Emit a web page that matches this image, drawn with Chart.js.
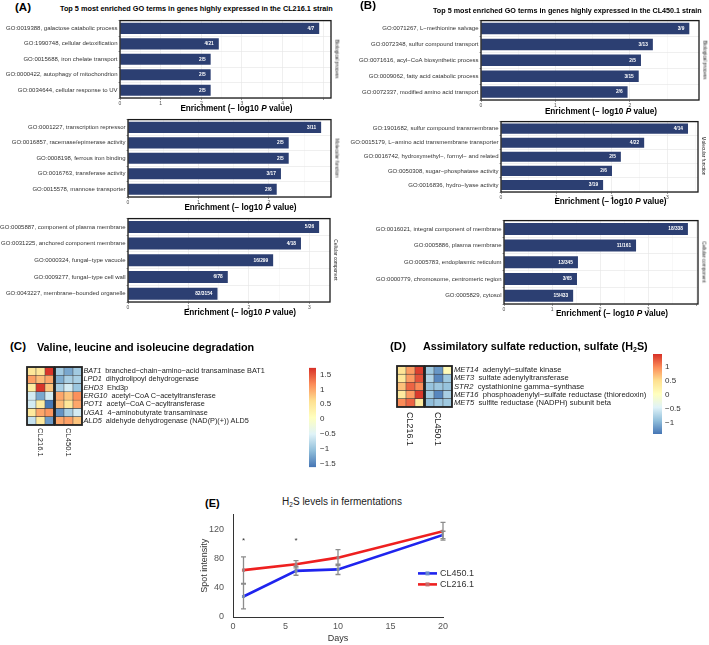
<!DOCTYPE html>
<html>
<head>
<meta charset="utf-8">
<script src="https://cdn.jsdelivr.net/npm/chart.js@4.4.1/dist/chart.umd.min.js"></script>
<style>
body { margin: 0; background: #fff; font-family: "Liberation Sans", Arial, sans-serif; }
#page { position: relative; width: 709px; height: 645px; overflow: hidden; }
canvas { position: absolute; }
.t { position: absolute; white-space: nowrap; line-height: 1; color: #000; }
</style>
</head>
<body>
<div id="page"></div>
<script>
// ---- (A) GO terms, CL216.1 ----
const bpA = ['GO:0019388, galactose catabolic process', 'GO:1990748, cellular detoxification', 'GO:0015688, iron chelate transport', 'GO:0000422, autophagy of mitochondrion', 'GO:0034644, cellular response to UV'];
const bpAVal = [4.90, 2.43, 2.23, 2.23, 2.23];
const bpACnt = ['4/7', '4/21', '2/5', '2/5', '2/5'];
const mfA = ['GO:0001227, transcription repressor', 'GO:0016857, racemase/epimerase activity', 'GO:0008198, ferrous iron binding', 'GO:0016763, transferase activity', 'GO:0015578, mannose transporter'];
const mfAVal = [2.74, 2.28, 2.28, 2.17, 2.11];
const mfACnt = ['3/11', '2/5', '2/5', '3/17', '2/6'];
const ccA = ['GO:0005887, component of plasma membrane', 'GO:0031225, anchored component membrane', 'GO:0000324, fungal\u2212type vacuole', 'GO:0009277, fungal\u2212type cell wall', 'GO:0043227, membrane\u2212bounded organelle'];
const ccAVal = [3.16, 2.86, 2.40, 1.65, 1.48];
const ccACnt = ['5/26', '4/18', '16/299', '6/78', '82/3154'];

// ---- (B) GO terms, CL450.1 ----
const bpB = ['GO:0071267, L\u2212methionine salvage', 'GO:0072348, sulfur compound transport', 'GO:0071616, acyl\u2212CoA biosynthetic process', 'GO:0009062, fatty acid catabolic process', 'GO:0072337, modified amino acid transport'];
const bpBVal = [2.80, 2.31, 2.15, 2.12, 1.97];
const bpBCnt = ['3/9', '3/13', '2/5', '3/15', '2/6'];
const mfB = ['GO:1901682, sulfur compound transmembrane', 'GO:0015179, L\u2212amino acid transmembrane transporter', 'GO:0016742, hydroxymethyl\u2212, formyl\u2212 and related', 'GO:0050308, sugar\u2212phosphatase activity', 'GO:0016836, hydro\u2212lyase activity'];
const mfBVal = [3.37, 2.58, 2.16, 2.00, 1.84];
const mfBCnt = ['4/14', '4/22', '2/5', '2/6', '3/19'];
const ccB = ['GO:0016021, integral component of membrane', 'GO:0005886, plasma membrane', 'GO:0005783, endoplasmic reticulum', 'GO:0000779, chromosome, centromeric region', 'GO:0005829, cytosol'];
const ccBVal = [3.83, 2.75, 1.54, 1.52, 1.44];
const ccBCnt = ['18/338', '11/161', '13/345', '3/65', '15/433'];

// ---- (C) heatmap: rows = genes, cols = 3 replicates per strain ----
const genesC = ['BAT1', 'LPD1', 'EHD3', 'ERG10', 'POT1', 'UGA1', 'ALD5'];
const descC = ['branched\u2212chain\u2212amino\u2212acid transaminase BAT1', 'dihydrolipoyl dehydrogenase', 'Ehd3p', 'acetyl\u2212CoA C\u2212acetyltransferase', 'acetyl\u2212CoA C\u2212acyltransferase', '4\u2212aminobutyrate transaminase', 'aldehyde dehydrogenase (NAD(P)(+)) ALD5'];
const c216 = [[0.5, 0.5, 1.7], [1.05, 0.85, 1.0], [0.4, 1.7, 0.8], [-0.6, -1.25, -0.6], [-0.6, 0.4, -1.6], [0.45, 1.0, 1.1], [-0.7, 0.45, -1.35]];
const c450 = [[-0.95, -1.25, -0.95], [-1.2, -0.9, -0.9], [-0.9, -0.6, -1.0], [1.0, 0.8, 1.15], [0.85, 0.5, 1.0], [-1.4, -0.9, -0.6], [1.0, 1.05, 0.8]];
const rangeC = [-1.63, 1.73];

// ---- (D) heatmap ----
const genesD = ['MET14', 'MET3', 'STR2', 'MET16', 'MET5'];
const descD = ['adenylyl\u2212sulfate kinase', 'sulfate adenylyltransferase', 'cystathionine gamma\u2212synthase', 'phosphoadenylyl\u2212sulfate reductase (thioredoxin)', 'sulfite reductase (NADPH) subunit beta'];
const d216 = [[0.45, 0.9, 1.4], [0.4, 0.9, 1.3], [0.7, 1.2, 1.0], [0.35, 0.9, 1.42], [1.0, 1.2, 0.35]];
const d450 = [[-0.85, -1.2, 0.1], [-0.75, -1.3, -0.85], [-0.9, -0.87, -0.9], [-0.85, -1.3, -0.8], [-0.95, -0.87, -0.85]];
const rangeD = [-1.42, 1.47];
const strains = ['CL216.1', 'CL450.1'];

// ---- (E) H2S levels ----
const days = [1, 6, 10, 20];
const h2s450 = [28, 63, 65, 112];
const err450 = [17, 6, 7, 5];
const h2s216 = [64, 72, 81, 117];
const err216 = [18, 5, 11, 12];
const starDays = [1, 6];
const starLevel = 104;

Chart.defaults.font.family = '"Liberation Sans", Arial, sans-serif';
Chart.defaults.animation = false;
const NAVY = '#2c3f72';
const PAL = ['#4575B4', '#91BFDB', '#E0F3F8', '#FFFFBF', '#FEE090', '#FC8D59', '#D73027'];
const page = document.getElementById('page');

function addCanvas(x, y, w, h) {
  const c = document.createElement('canvas');
  c.width = Math.round(w); c.height = Math.round(h);
  c.style.left = x + 'px'; c.style.top = y + 'px';
  page.appendChild(c);
  return c;
}

function txt(html, x, y, css, anchor) {
  const d = document.createElement('div');
  d.className = 't';
  d.innerHTML = html;
  d.style.cssText += css;
  d.style.left = x + 'px';
  d.style.top = y + 'px';
  const tx = anchor === 'c' ? '-50%' : anchor === 'r' ? '-100%' : '0';
  d.style.transform = 'translate(' + tx + ',-50%)';
  page.appendChild(d);
  return d;
}

function vtxt(html, cx, top, fs) {
  const d = document.createElement('div');
  d.className = 't';
  d.innerHTML = html;
  d.style.cssText += 'font-size:' + fs + 'px;color:#222;transform-origin:0 0;transform:rotate(90deg);';
  d.style.left = (cx + fs / 2) + 'px';
  d.style.top = top + 'px';
  page.appendChild(d);
}

const frame = {
  id: 'frame',
  afterDraw(c, args, opts) {
    const a = c.chartArea, g = c.ctx;
    g.save();
    g.strokeStyle = opts.color || '#1a1a1a';
    g.lineWidth = opts.width || 1.3;
    g.strokeRect(a.left, a.top, a.right - a.left, a.bottom - a.top);
    g.restore();
  }
};

const isInt = v => Math.abs(v - Math.round(v)) < 1e-6;

function goPanel(p) {
  const top = p.T - 3, right = p.R + 12, bottom = p.B + 10;
  const cv = addCanvas(p.cx, top, right - p.cx, bottom - top);
  new Chart(cv, {
    type: 'bar',
    data: { labels: p.terms, datasets: [{ data: p.vals, backgroundColor: NAVY, barPercentage: 0.72, categoryPercentage: 1 }] },
    options: {
      indexAxis: 'y', responsive: false,
      layout: { padding: { top: 3, right: 12, left: 0, bottom: 0 } },
      plugins: { legend: { display: false }, tooltip: { enabled: false } },
      scales: {
        x: {
          min: 0, max: p.max,
          ticks: { stepSize: 0.5, includeBounds: false, autoSkip: false, maxRotation: 0, padding: 0.5,
            font: { size: 5 }, color: '#4d4d4d',
            callback: v => (isInt(v) && v <= p.lab) ? String(Math.round(v)) : '' },
          grid: { color: ctx => ctx.tick && isInt(ctx.tick.value) ? '#e4e4e4' : '#f3f3f3', tickLength: 2,
            tickColor: ctx => ctx.tick && isInt(ctx.tick.value) ? '#555' : 'rgba(0,0,0,0)', lineWidth: 0.6 },
          border: { display: false },
          afterFit: s => { s.height = 10; }
        },
        y: {
          ticks: { autoSkip: false, padding: 1, font: { size: 6 }, color: '#333' },
          grid: { color: '#e4e4e4', lineWidth: 0.6, tickLength: 1.5, tickColor: '#555' },
          border: { display: false },
          afterFit: s => { s.width = p.L - p.cx; }
        }
      }
    },
    plugins: [frame, {
      id: 'counts',
      afterDatasetsDraw(c) {
        const g = c.ctx;
        g.save();
        g.fillStyle = '#fff';
        g.font = 'bold 4.8px "Liberation Sans"';
        g.textAlign = 'right'; g.textBaseline = 'middle';
        c.getDatasetMeta(0).data.forEach((bar, i) => g.fillText(p.cnt[i], bar.x - 5, bar.y));
        g.restore();
      }
    }]
  });
  const fl = document.createElement('div');
  fl.className = 't';
  fl.textContent = p.facet;
  fl.style.cssText += 'font-size:4.8px;color:#1a1a1a;transform:translate(-50%,-50%) rotate(90deg);';
  fl.style.left = (p.R + 5) + 'px';
  fl.style.top = ((p.T + p.B) / 2) + 'px';
  page.appendChild(fl);
  txt('Enrichment (\u2212 log10 <i>P</i> value)', (p.L + p.R) / 2 + 11, p.ty, 'font-size:8.2px;font-weight:bold;', 'c');
}

const goPanels = [
  { terms: bpA, vals: bpAVal, cnt: bpACnt, facet: 'Biological process', cx: 0, L: 120, R: 331, T: 19, B: 98, max: 5.19, lab: 4, ty: 109 },
  { terms: mfA, vals: mfAVal, cnt: mfACnt, facet: 'Molecular function', cx: 0, L: 128, R: 331, T: 118, B: 197, max: 2.88, lab: 2, ty: 208 },
  { terms: ccA, vals: ccAVal, cnt: ccACnt, facet: 'Cellular component', cx: 0, L: 128, R: 330, T: 217, B: 302, max: 3.34, lab: 3, ty: 313 },
  { terms: bpB, vals: bpBVal, cnt: bpBCnt, facet: 'Biological process', cx: 340, L: 481, R: 699, T: 19, B: 100, max: 2.93, lab: 2, ty: 112 },
  { terms: mfB, vals: mfBVal, cnt: mfBCnt, facet: 'Molecular function', cx: 340, L: 501, R: 698, T: 120, B: 192, max: 3.55, lab: 3, ty: 202 },
  { terms: ccB, vals: ccBVal, cnt: ccBCnt, facet: 'Cellular component', cx: 340, L: 504, R: 698, T: 219, B: 304, max: 4.04, lab: 3, ty: 314 }
];
goPanels.forEach(goPanel);

txt('(A)', 15, 8, 'font-size:11.5px;font-weight:bold;');
txt('Top 5 most enriched GO terms in genes highly expressed in the CL216.1 strain', 60, 8.5, 'font-size:7.3px;font-weight:bold;');
txt('(B)', 360, 6, 'font-size:11.5px;font-weight:bold;');
txt('Top 5 most enriched GO terms in genes highly expressed in the CL450.1 strain', 433, 11, 'font-size:7.2px;font-weight:bold;');

// ---- heatmaps ----
function hexRgb(h) { return [1, 3, 5].map(i => parseInt(h.slice(i, i + 2), 16)); }
function heatColor(v, lo, hi) {
  let t = (v - lo) / (hi - lo) * (PAL.length - 1);
  t = Math.max(0, Math.min(PAL.length - 1, t));
  const i = Math.min(Math.floor(t), PAL.length - 2), f = t - i;
  const a = hexRgb(PAL[i]), b = hexRgb(PAL[i + 1]);
  return 'rgb(' + a.map((x, k) => Math.round(x + (b[k] - x) * f)).join(',') + ')';
}

function heatGroup(x, y, w, h, rows, range) {
  const cv = addCanvas(x - 1, y - 1, w + 2, h + 2);
  const n = rows.length;
  new Chart(cv, {
    type: 'bar',
    data: {
      labels: ['r1', 'r2', 'r3'],
      datasets: rows.slice().reverse().map(r => ({
        data: r.map(() => 1),
        backgroundColor: r.map(v => heatColor(v, range[0], range[1])),
        borderColor: '#3a3a3a', borderWidth: 0.55, borderSkipped: false,
        barPercentage: 1, categoryPercentage: 1
      }))
    },
    options: {
      responsive: false,
      layout: { padding: 1 },
      plugins: { legend: { display: false }, tooltip: { enabled: false }, frame: { color: '#222', width: 1.8 } },
      scales: {
        x: { stacked: true, display: false },
        y: { stacked: true, display: false, min: 0, max: n }
      }
    },
    plugins: [frame]
  });
}

function colorBar(x, y, w, h, range, labPad) {
  const cv = addCanvas(x, y - 8, w + 34, h + 16);
  new Chart(cv, {
    type: 'bar',
    data: {
      labels: [''],
      datasets: [{
        data: [[range[0], range[1]]],
        barPercentage: 1, categoryPercentage: 1,
        backgroundColor: ctx => {
          const a = ctx.chart.chartArea;
          if (!a) return PAL[3];
          const gr = ctx.chart.ctx.createLinearGradient(0, a.bottom, 0, a.top);
          PAL.forEach((c, i) => gr.addColorStop(i / (PAL.length - 1), c));
          return gr;
        }
      }]
    },
    options: {
      responsive: false,
      layout: { padding: { top: 8, bottom: 8 } },
      plugins: { legend: { display: false }, tooltip: { enabled: false } },
      scales: {
        x: { display: false },
        y: {
          position: 'right', min: range[0], max: range[1],
          ticks: { stepSize: 0.5, includeBounds: false, padding: labPad, font: { size: 8 }, color: '#333',
            callback: v => (v < 0 ? '\u2212' : '') + Math.abs(v) },
          grid: { display: false, drawTicks: false },
          border: { display: false },
          afterFit: s => { s.width = 34; }
        }
      }
    }
  });
}

function geneLabels(x, top, rowH, genes, desc, fs) {
  genes.forEach((gname, i) => {
    txt('<i>' + gname + '</i>&nbsp; ' + desc[i], x, top + rowH * (i + 0.5), 'font-size:' + fs + 'px;color:#222;');
  });
}

// (C)
txt('(C)', 10, 347, 'font-size:11.5px;font-weight:bold;');
txt('Valine, leucine and isoleucine degradation', 37, 347, 'font-size:10.8px;font-weight:bold;');
heatGroup(27, 367, 27, 58, c216, rangeC);
heatGroup(55, 367, 27, 58, c450, rangeC);
geneLabels(83.5, 367, 58 / 7, genesC, descC, 7.3);
vtxt(strains[0], 40.5, 428, 7.6);
vtxt(strains[1], 68.5, 428, 7.6);
colorBar(309, 367, 7, 101, rangeC, 4);

// (D)
txt('(D)', 390, 347, 'font-size:11.5px;font-weight:bold;');
txt('Assimilatory sulfate reduction, sulfate (H<sub style="font-size:7px;vertical-align:-2px">2</sub>S)', 423, 347, 'font-size:10.8px;font-weight:bold;');
heatGroup(396.5, 366, 26.5, 41, d216, rangeD);
heatGroup(424.5, 366, 26.5, 41, d450, rangeD);
geneLabels(454, 366, 41 / 5, genesD, descD, 7.6);
vtxt(strains[0], 409.5, 412, 9);
vtxt(strains[1], 437.5, 412, 9);
colorBar(653, 354, 9, 80, rangeD, 3);

// (E)
txt('(E)', 205, 503, 'font-size:11px;font-weight:bold;');
txt('H<sub style="font-size:6.5px;vertical-align:-2px">2</sub>S levels in fermentations', 342, 503, 'font-size:10px;color:#222;', 'c');

const errorBars = {
  id: 'errorBars',
  afterDatasetsDraw(c) {
    const g = c.ctx, xs = c.scales.x, ys = c.scales.y;
    g.save();
    g.strokeStyle = '#8c8c8c'; g.lineWidth = 1.3;
    [[h2s450, err450], [h2s216, err216]].forEach(([m, e]) => {
      days.forEach((d, i) => {
        const px = xs.getPixelForValue(d);
        const y0 = ys.getPixelForValue(m[i] - e[i]), y1 = ys.getPixelForValue(m[i] + e[i]);
        g.beginPath();
        g.moveTo(px, y0); g.lineTo(px, y1);
        g.moveTo(px - 2.5, y0); g.lineTo(px + 2.5, y0);
        g.moveTo(px - 2.5, y1); g.lineTo(px + 2.5, y1);
        g.stroke();
      });
    });
    g.fillStyle = '#333';
    g.font = '8px "Liberation Sans"';
    g.textAlign = 'center'; g.textBaseline = 'middle';
    starDays.forEach(d => g.fillText('*', xs.getPixelForValue(d), ys.getPixelForValue(starLevel)));
    g.restore();
  },
  afterDraw(c) {
    const g = c.ctx, a = c.chartArea;
    g.save();
    c.data.datasets.forEach((ds, i) => {
      const y = a.top + 59 + i * 11, x0 = a.right - 25;
      g.strokeStyle = ds.borderColor; g.lineWidth = 2.6;
      g.beginPath(); g.moveTo(x0, y); g.lineTo(x0 + 19, y); g.stroke();
      g.fillStyle = ds.pointBackgroundColor;
      g.fillRect(x0 + 7.5, y - 2, 4, 4);
      g.fillStyle = '#333';
      g.font = '9px "Liberation Sans"';
      g.textBaseline = 'middle';
      g.fillText(ds.label, x0 + 22, y + 0.5);
    });
    g.restore();
  }
};

const cvE = addCanvas(199, 500, 310, 145);
new Chart(cvE, {
  type: 'line',
  data: {
    datasets: [
      { label: 'CL450.1', data: days.map((d, i) => ({ x: d, y: h2s450[i] })), borderColor: '#1f24ee', borderWidth: 2.6,
        pointStyle: 'rect', pointRadius: 2.2, pointBackgroundColor: '#6a8ccc', pointBorderWidth: 0, tension: 0 },
      { label: 'CL216.1', data: days.map((d, i) => ({ x: d, y: h2s216[i] })), borderColor: '#ee2020', borderWidth: 2.6,
        pointStyle: 'rect', pointRadius: 2.2, pointBackgroundColor: '#c86a6a', pointBorderWidth: 0, tension: 0 }
    ]
  },
  options: {
    responsive: false,
    layout: { padding: { top: 12, right: 66, left: 0, bottom: 0 } },
    plugins: { legend: { display: false }, tooltip: { enabled: false } },
    scales: {
      x: {
        type: 'linear', min: 0, max: 20,
        ticks: { stepSize: 5, padding: 4, font: { size: 9 }, color: '#555' },
        grid: { display: false, drawTicks: false },
        border: { color: '#333', width: 1 },
        title: { display: true, text: 'Days', font: { size: 9 }, color: '#333', padding: { top: 0, bottom: 1 } },
        afterFit: s => { s.height = 28; }
      },
      y: {
        min: 0, max: 140,
        ticks: { stepSize: 40, includeBounds: false, padding: 9, font: { size: 9 }, color: '#555' },
        grid: { display: false, drawTicks: false },
        border: { color: '#333', width: 1 },
        title: { display: true, text: 'Spot intensity', font: { size: 9 }, color: '#333', padding: 0 },
        afterFit: s => { s.width = 34; }
      }
    }
  },
  plugins: [errorBars]
});
</script>
</body>
</html>
